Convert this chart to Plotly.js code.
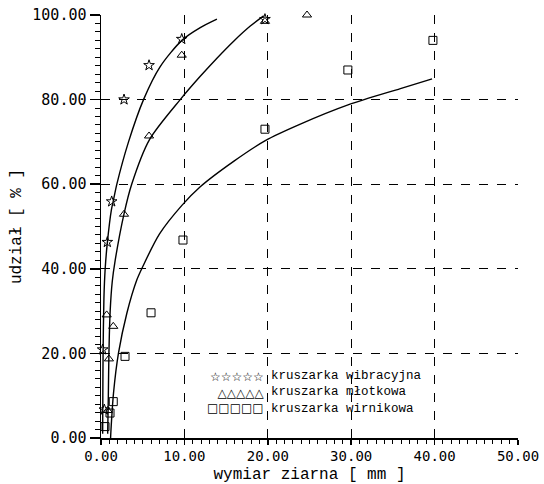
<!DOCTYPE html>
<html>
<head>
<meta charset="utf-8">
<script src="https://cdn.plot.ly/plotly-3.0.1.min.js"></script>
<style>html,body{margin:0;padding:0;background:#fff;}#chart{width:544px;height:484px;}</style>
</head>
<body>
<div id="chart"></div>
<script>
// measured points
const wibX = [0.2, 0.4, 0.76, 1.28, 2.76, 5.76, 9.68, 19.66];
const wibY = [20.9, 6.7, 46.3, 55.9, 80.0, 88.1, 94.3, 99.0];
const mloX = [0.8, 0.95, 0.68, 1.47, 2.76, 5.76, 9.68, 19.66, 24.7];
const mloY = [6.5, 18.7, 29.1, 26.4, 52.9, 71.4, 90.5, 98.5, 100.0];
const wirX = [0.48, 1.08, 1.47, 2.88, 6.0, 9.83, 19.66, 29.6, 39.8];
const wirY = [2.7, 5.9, 8.6, 19.3, 29.6, 46.8, 73.0, 87.0, 94.0];

// fitted curves
const wibCurveX = [0.2, 0.22, 0.25, 0.35, 0.5, 0.75, 1.25, 1.5, 1.9, 3.3, 5.1, 7.1, 9.7, 11.9, 13.9];
const wibCurveY = [1, 10, 20, 33, 40, 46, 54, 56.3, 60, 70, 80, 87.8, 94, 97, 99];
const mloCurveX = [0.8, 0.88, 0.95, 1.1, 1.35, 1.7, 2.76, 3.68, 5.8, 9.5, 11.9, 13.9, 16, 17.9, 19.5];
const mloCurveY = [1, 10, 20, 30, 37, 42, 53, 60, 70.5, 80, 85.5, 89.8, 94, 97.4, 99.8];
const wirCurveX = [1.15, 1.2, 1.5, 2.1, 3.1, 4.3, 5.0, 7.0, 9.7, 11.9, 15.9, 19.7, 23.9, 29.7, 35.9, 39.7];
const wirCurveY = [0, 2, 10.6, 20.1, 29.5, 37.4, 40.5, 48.2, 55, 59.4, 65.4, 70.3, 74.2, 78.8, 82.6, 84.9];

const names = ['kruszarka wibracyjna', 'kruszarka młotkowa', 'kruszarka wirnikowa'];
const legendGlyphs = ['☆☆☆☆☆', '△△△△△', '□□□□□'];
const symbols = ['star-open', 'triangle-up-open', 'square-open'];
const tickVals = [0, 10, 20, 30, 40, 50];
const yTickVals = [0, 20, 40, 60, 80, 100];

const mono = 'DejaVu Sans Mono';
const typ = 'Liberation Mono';

function markers(x, y, i) {
  return {x: x, y: y, type: 'scatter', mode: 'markers', name: names[i], cliponaxis: false,
    showlegend: false,
    marker: {symbol: symbols[i], size: 8, color: 'black', line: {color: 'black', width: 1}}};
}
function curve(x, y) {
  return {x: x, y: y, type: 'scatter', mode: 'lines', showlegend: false, hoverinfo: 'skip',
    line: {color: 'black', width: 1.4, shape: 'spline', smoothing: 0.8}};
}

const data = [
  curve(wibCurveX, wibCurveY), curve(mloCurveX, mloCurveY), curve(wirCurveX, wirCurveY),
  markers(wibX, wibY, 0), markers(mloX, mloY, 1), markers(wirX, wirY, 2)
];

// legend drawn as a compact block: symbol column (right-aligned) + label column
const layout = {
  width: 544, height: 484,
  margin: {l: 101, r: 26, t: 15, b: 46},
  paper_bgcolor: 'white', plot_bgcolor: 'white',
  showlegend: false,
  annotations: [
    {xref: 'paper', yref: 'paper', x: 0.3955, y: 0.107, xanchor: 'right', yanchor: 'middle',
      align: 'right', text: legendGlyphs.join('<br>'), showarrow: false,
      font: {family: 'DejaVu Sans', size: 12, color: 'black'}},
    {xref: 'paper', yref: 'paper', x: 0.4035, y: 0.107, xanchor: 'left', yanchor: 'middle',
      align: 'left', text: names.join('<br>'), showarrow: false,
      font: {family: typ, size: 12.5, color: 'black'}}
  ],
  xaxis: {
    range: [0, 50], tickvals: tickVals, ticktext: tickVals.map(v => v.toFixed(2)),
    showline: true, linecolor: 'black', linewidth: 1.5, zeroline: false,
    ticks: 'outside', ticklen: 5, tickwidth: 1.5, tickcolor: 'black',
    minor: {dtick: 1, tick0: 0, ticks: 'outside', ticklen: 4, tickcolor: 'black', tickwidth: 1, showgrid: false},
    showgrid: true, gridcolor: 'black', griddash: 'dash', gridwidth: 1,
    tickfont: {family: mono, size: 14, color: 'black'},
    title: {text: 'wymiar ziarna [ mm ]', font: {family: typ, size: 16, color: 'black'}, standoff: 4},
    automargin: false
  },
  yaxis: {
    range: [0, 100], tickvals: yTickVals, ticktext: yTickVals.map(v => v.toFixed(2)),
    showline: true, linecolor: 'black', linewidth: 1.5, zeroline: false,
    ticks: 'outside', ticklen: 10, tickwidth: 1.5, tickcolor: 'black',
    minor: {dtick: 2, tick0: 0, ticks: 'outside', ticklen: 5, tickcolor: 'black', tickwidth: 1, showgrid: false},
    showgrid: true, gridcolor: 'black', griddash: 'dash', gridwidth: 1,
    tickfont: {family: mono, size: 15, color: 'black'},
    title: {text: 'udział [ % ]', font: {family: typ, size: 16, color: 'black'}, standoff: 6},
    automargin: false
  }
};

Plotly.newPlot('chart', data, layout, {displayModeBar: false, staticPlot: true});
</script>
</body>
</html>
